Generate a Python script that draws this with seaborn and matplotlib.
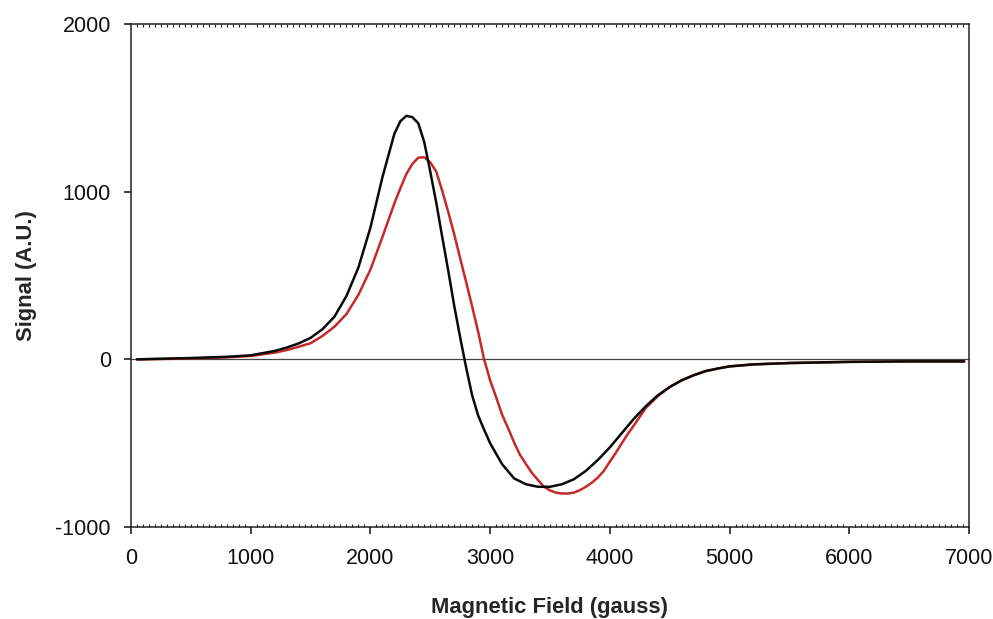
import matplotlib
matplotlib.use('Agg')
import matplotlib.pyplot as plt
import pandas as pd
import seaborn as sns
from matplotlib.ticker import MultipleLocator

# Field values (gauss) and signal
field_black = [50, 500, 800, 1000, 1200, 1300, 1400, 1500, 1600, 1700, 1800, 1900,
               2000, 2100, 2200, 2250, 2300, 2350, 2400, 2450, 2500, 2550, 2600,
               2650, 2700, 2750, 2800, 2850, 2900, 2950, 3000, 3100, 3200, 3300,
               3400, 3500, 3600, 3700, 3800, 3900, 4000, 4100, 4200, 4300, 4400,
               4500, 4600, 4700, 4800, 4900, 5000, 5200, 5500, 6000, 6500, 6960]
signal_black = [0, 8, 15, 24, 50, 70, 95, 128, 180, 255, 378, 548,
                785, 1085, 1345, 1420, 1452, 1445, 1408, 1295, 1120, 935, 730,
                530, 320, 130, -50, -215, -335, -420, -500, -625, -710, -745,
                -760, -760, -745, -715, -665, -600, -525, -440, -355, -280, -215,
                -165, -125, -95, -70, -55, -42, -30, -22, -15, -12, -12]

field_red = [50, 500, 800, 1000, 1200, 1300, 1400, 1500, 1600, 1700, 1800, 1900,
             2000, 2100, 2200, 2250, 2300, 2350, 2400, 2450, 2500, 2550, 2600,
             2650, 2700, 2750, 2800, 2850, 2900, 2950, 3000, 3050, 3100, 3150,
             3200, 3250, 3300, 3350, 3400, 3450, 3500, 3550, 3600, 3650, 3700,
             3750, 3800, 3850, 3900, 3950, 4000, 4050, 4100, 4150, 4200, 4300,
             4400, 4500, 4600, 4700, 4800, 4900, 5000, 5200, 5500, 6000, 6500, 6960]
signal_red = [0, 5, 12, 20, 40, 55, 75, 96, 140, 195, 270, 385,
              535, 729, 930, 1020, 1105, 1165, 1203, 1205, 1175, 1120, 1005,
              880, 746, 602, 460, 315, 165, 0, -125, -225, -330, -410,
              -495, -570, -625, -678, -720, -760, -782, -795, -800, -800, -795,
              -780, -760, -735, -705, -665, -610, -558, -500, -445, -395, -290,
              -220, -165, -125, -95, -70, -55, -42, -30, -22, -15, -12, -12]

sns.set_style('white')
plt.rcParams['font.family'] = ['Liberation Sans', 'DejaVu Sans']
plt.rcParams['axes.unicode_minus'] = False

fig = plt.figure(figsize=(9.93, 6.19), dpi=100)
ax = fig.add_axes([0.1319, 0.1486, 0.8439, 0.8126])

ax.axhline(0, color='#444444', linewidth=0.9, zorder=1)
sns.lineplot(x=field_red, y=signal_red, color='#c42a2a', linewidth=1.8,
             sort=False, estimator=None, ax=ax)
sns.lineplot(x=field_black, y=signal_black, color='#0a0a0a', linewidth=1.8,
             sort=False, estimator=None, ax=ax)

ax.set_xlim(0, 7000)
ax.set_ylim(-1000, 2000)
ax.xaxis.set_major_locator(MultipleLocator(1000))
ax.xaxis.set_minor_locator(MultipleLocator(50))
ax.yaxis.set_major_locator(MultipleLocator(1000))

ax.tick_params(axis='x', which='major', direction='out', length=5, width=1.1,
               top=False, bottom=True, labelsize=15.5, pad=10, colors='#111111')
ax.tick_params(axis='x', which='minor', direction='in', length=2.5, width=0.8,
               top=True, bottom=True)
ax.tick_params(axis='y', which='major', direction='out', length=5, width=1.1,
               left=True, right=False, labelsize=15.5, pad=9.5, colors='#111111')

for side in ['left', 'right', 'top', 'bottom']:
    ax.spines[side].set_visible(True)
    ax.spines[side].set_color('#222222')
    ax.spines[side].set_linewidth(1.1)

ax.set_xlabel('Magnetic Field (gauss)', fontsize=15.8, fontweight='bold', labelpad=20)
ax.set_ylabel('Signal (A.U.)', fontsize=15.8, fontweight='bold', labelpad=13)

plt.savefig('out.png', dpi=100)
